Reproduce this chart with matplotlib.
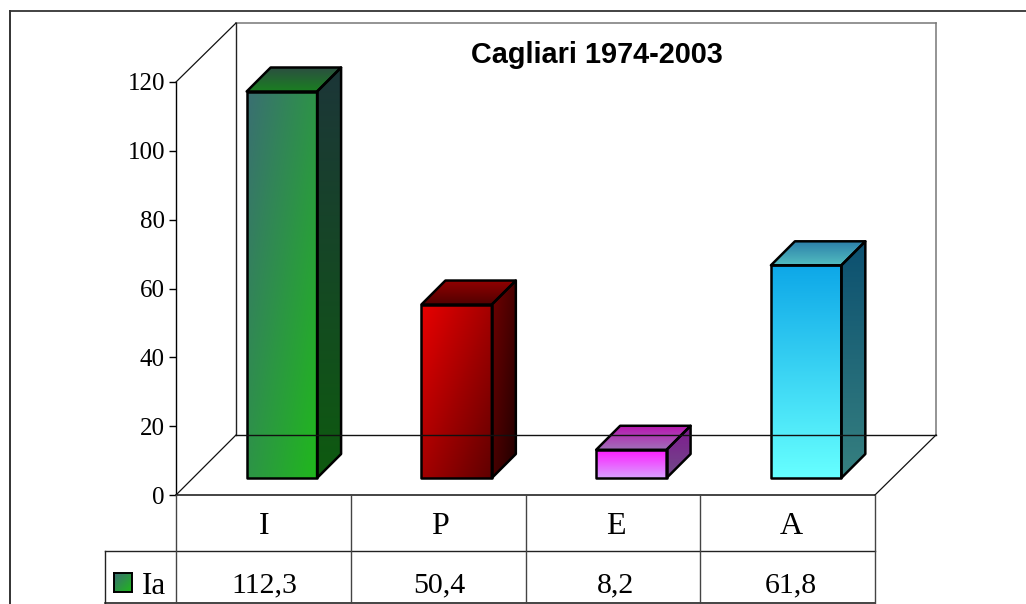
import numpy as np
import matplotlib.pyplot as plt
from matplotlib.colors import LinearSegmentedColormap
from matplotlib.lines import Line2D
from matplotlib.patches import Polygon

# Indici di Cagliari 1974-2003
categorie = ["I", "P", "E", "A"]
valori = [112.3, 50.4, 8.2, 61.8]
etichette_valori = ["112,3", "50,4", "8,2", "61,8"]
nome_serie = "Ia"
tick_y = [0, 20, 40, 60, 80, 100, 120]
titolo = "Cagliari 1974-2003"

W, H = 1026, 604
SERIF = "Liberation Serif"

# Colori delle facce: (inizio, fine, gradiente diagonale?)
frontali = [("#3a6f72", "#20b81c", True), ("#e80000", "#600000", True),
            ("#ff18ff", "#d8a0ff", False), ("#0ea8e8", "#66ffff", False)]
superiori = [("#2b5040", "#1a8020", False), ("#900000", "#500000", False),
             ("#b818b0", "#a070b8", False), ("#2a7ca8", "#52bcc0", False)]
laterali = [("#1c3638", "#0e5a10", False), ("#700000", "#200000", True),
            ("#801890", "#704c88", False), ("#0c5070", "#368080", False)]

fig = plt.figure(figsize=(W / 100, H / 100), dpi=100)


def fx(x):
    return x / W


def fy(y):
    return 1 - y / H


def linea(x0, y0, x1, y1, colore="black", lw=1.0):
    fig.add_artist(Line2D([fx(x0), fx(x1)], [fy(y0), fy(y1)], color=colore, lw=lw,
                          transform=fig.transFigure, solid_capstyle="projecting"))


# Asse principale: faccia anteriore del grafico 3D, con margine sopra per la profondita
X0, X1, Y0, Y1, YT = 176, 875, 495, 82, 22
ux = 4 / (X1 - X0)
uy = 120 / (Y0 - Y1)
ylim_top = 120 + (Y1 - YT) * uy

ax = fig.add_axes([fx(X0), fy(Y0), (X1 - X0) / W, (Y0 - YT) / H])
ax.patch.set_alpha(0)
for s in ["top", "right", "bottom"]:
    ax.spines[s].set_visible(False)
ax.spines["left"].set_linewidth(1.0)
ax.spines["left"].set_bounds(0, 120)
ax.set_xticks([])
ax.set_yticks(tick_y)
ax.tick_params(axis="y", length=5, width=1.0, pad=3)
ax.set_yticklabels([str(v) for v in tick_y], fontfamily=SERIF, fontsize=18)

# Cornice esterna
linea(10, 11, 1030, 11, "#222222", 1.2)
linea(10, 11, 10, 610, "#333333", 1.4)

# Pareti e pavimento
linea(236, 23, 936, 23, "#777777", 1.1)
linea(936, 23, 936, 435, "#777777", 1.1)
linea(236, 23, 236, 435, "#222222", 1.0)
linea(236, 435, 936, 435, "#111111", 1.0)
linea(176, 82, 236, 23, "#111111", 0.9)
linea(176, 495, 236, 435, "#111111", 0.9)
linea(875, 495, 936, 435, "#111111", 0.9)

# Tabella dati
linea(176, 495, 875, 495, "#111111", 1.1)
linea(105, 551, 875, 551, "#222222", 1.0)
linea(105, 603, 875, 603, "#111111", 1.1)
linea(105, 551, 105, 603, "#222222", 1.0)
for i in range(5):
    xc = X0 + (X1 - X0) * i / 4
    linea(xc, 495, xc, 603, "#444444", 1.0)


def faccia(vertici, c0, c1, diagonale=False):
    """Riempie un poligono con un gradiente lineare."""
    vertici = np.array(vertici)
    cmap = LinearSegmentedColormap.from_list("g", [c0, c1])
    n = 64
    u, v = np.meshgrid(np.linspace(0, 1, n), np.linspace(0, 1, n))
    g = (u + v) / 2 if diagonale else v
    xa, xb = vertici[:, 0].min(), vertici[:, 0].max()
    ya, yb = vertici[:, 1].min(), vertici[:, 1].max()
    # origin upper: v=0 in alto, quindi c0 e il colore in alto
    im = ax.imshow(g, cmap=cmap, vmin=0, vmax=1, extent=[xa, xb, ya, yb], origin="upper",
                   aspect="auto", interpolation="bilinear", zorder=3)
    bordo = Polygon(vertici, closed=True, fill=False, edgecolor="black", lw=1.8,
                    joinstyle="round", zorder=4, clip_on=False)
    ax.add_patch(bordo)
    im.set_clip_path(bordo)


# Barre 3D, costruite dai valori
LARGH = 0.403
sx, sy = 18.5 * ux, 17 * uy     # scostamento dal bordo anteriore
px, py = 24 * ux, 24 * uy       # profondita della barra
for i, v in enumerate(valori):
    x0 = i + 0.5 - LARGH / 2 + sx
    x1 = x0 + LARGH
    y0 = sy
    y1 = sy + v
    c0, c1, diag = frontali[i]
    faccia([(x0, y1), (x1, y1), (x1 + px, y1 + py), (x0 + px, y1 + py)], *superiori[i])
    faccia([(x1, y0), (x1 + px, y0 + py), (x1 + px, y1 + py), (x1, y1)], *laterali[i])
    faccia([(x0, y0), (x1, y0), (x1, y1), (x0, y1)], c0, c1, diag)
ax.set_xlim(0, 4)
ax.set_ylim(0, ylim_top)

# Contenuto tabella
for i, (c, e) in enumerate(zip(categorie, etichette_valori)):
    xc = fx(264 + 175.7 * i)
    fig.text(xc, fy(526), c, ha="center", va="center", fontfamily=SERIF, fontsize=23)
    fig.text(xc, fy(585), e, ha="center", va="center", fontfamily=SERIF, fontsize=21.5)
fig.text(fx(142), fy(586), nome_serie, ha="left", va="center", fontfamily=SERIF, fontsize=22.5)

# Simbolo della legenda
leg = fig.add_axes([fx(114), fy(592), 18 / W, 19 / H])
leg.imshow(np.add.outer(np.linspace(0, 1, 32), np.linspace(0, 1, 32)) / 2,
           cmap=LinearSegmentedColormap.from_list("g", ["#3a6f72", "#20b81c"]),
           aspect="auto", interpolation="bilinear")
leg.set_xticks([])
leg.set_yticks([])
for s in leg.spines.values():
    s.set_linewidth(1.4)

fig.text(fx(597), fy(55), titolo, ha="center", va="center", fontfamily="Liberation Sans",
         fontweight="bold", fontsize=20.8)

fig.savefig("out.png", dpi=100)
